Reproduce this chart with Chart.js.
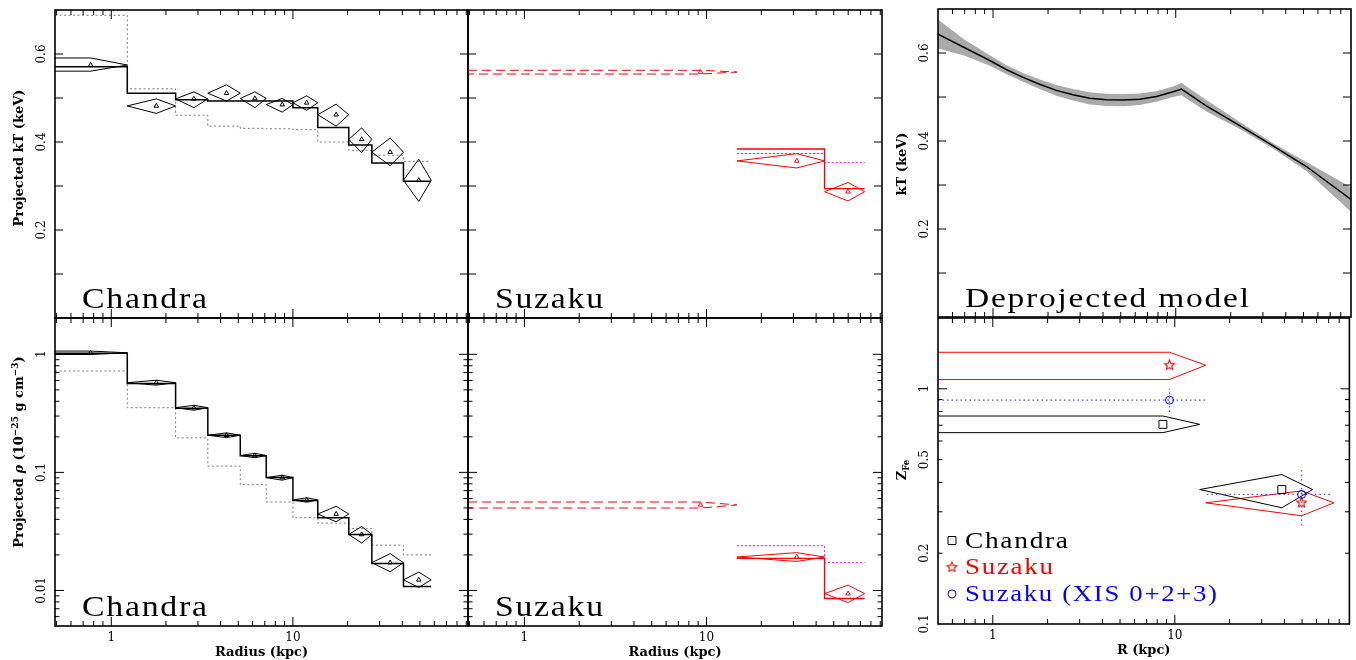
<!DOCTYPE html>
<html>
<head>
<meta charset="utf-8">
<script src="https://cdn.jsdelivr.net/npm/chart.js@4.4.1/dist/chart.umd.min.js"></script>
<style>
  html, body { margin: 0; padding: 0; background: #fff; }
  #wrap { position: relative; width: 1356px; height: 660px; overflow: hidden; }
  #wrap canvas { position: absolute; left: 0; top: 0; }
</style>
</head>
<body>
<div id="wrap">
  <canvas id="ktChandra" width="1356" height="660"></canvas>
  <canvas id="ktSuzaku" width="1356" height="660"></canvas>
  <canvas id="rhoChandra" width="1356" height="660"></canvas>
  <canvas id="rhoSuzaku" width="1356" height="660"></canvas>
  <canvas id="ktModel" width="1356" height="660"></canvas>
  <canvas id="zFe" width="1356" height="660"></canvas>
</div>
<script>
// ---- data (radii in kpc) ----
// Chandra annuli: edges and centres
const chandraEdges  = [0, 1.225, 2.26, 3.40, 5.13, 7.13, 10.0, 13.7, 20.3, 27.2, 40.6, 57.7];
const chandraRadius = [0.77, 1.77, 2.85, 4.31, 6.17, 8.73, 11.9, 17.3, 23.9, 34.3, 49.3];

const chandraKT    = [0.575, 0.482, 0.498, 0.511, 0.499, 0.485, 0.489, 0.462, 0.406, 0.377, 0.313];
const chandraKTHi  = [0.591, 0.498, 0.514, 0.530, 0.514, 0.499, 0.505, 0.486, 0.432, 0.409, 0.361];
const chandraKTLo  = [0.561, 0.465, 0.478, 0.493, 0.478, 0.468, 0.472, 0.436, 0.376, 0.346, 0.265];
const chandraKTFit = [0.571, 0.511, 0.496, 0.493, 0.493, 0.493, 0.478, 0.433, 0.393, 0.352, 0.311];
const chandraKTAlt = [0.688, 0.521, 0.461, 0.436, 0.431, 0.430, 0.428, 0.400, 0.381, 0.370, 0.356];

const chandraRho    = [1.03, 0.575, 0.353, 0.2065, 0.139, 0.0903, 0.0584, 0.0444, 0.0298, 0.0172, 0.0123];
const chandraRhoHi  = [1.065, 0.603, 0.370, 0.216, 0.145, 0.0947, 0.0609, 0.0516, 0.0348, 0.0205, 0.0143];
const chandraRhoLo  = [0.996, 0.548, 0.336, 0.197, 0.133, 0.0859, 0.0559, 0.0382, 0.0252, 0.0144, 0.0106];
const chandraRhoFit = [1.02, 0.567, 0.350, 0.2065, 0.138, 0.0903, 0.0577, 0.0413, 0.0298, 0.0169, 0.0108];
const chandraRhoAlt = [0.722, 0.353, 0.196, 0.113, 0.0787, 0.0561, 0.0413, 0.0372, 0.0335, 0.0242, 0.0200];

// Suzaku annuli (first one is dashed)
const suzakuEdges  = [0, 14.7, 44.5, 73.9];
const suzakuRadius = [9.27, 31.3, 59.9];
const suzakuKT     = [0.559, 0.357, 0.287];
const suzakuKTHi   = [0.563, 0.3735, 0.308];
const suzakuKTLo   = [0.5545, 0.341, 0.266];
const suzakuKTFit  = [null, 0.384, 0.294];
const suzakuKTAlt  = [null, 0.374, 0.353];
const suzakuRho    = [0.053, 0.0192, 0.0094];
const suzakuRhoHi  = [0.0561, 0.0209, 0.0111];
const suzakuRhoLo  = [0.0499, 0.0176, 0.0079];
const suzakuRhoFit = [null, 0.0187, 0.00855];
const suzakuRhoAlt = [null, 0.0239, 0.0172];

// deprojected temperature model and its 1-sigma band
const modelRadius = [0.5, 0.7, 0.96, 1.18, 1.46, 1.80, 2.22, 2.74, 3.38, 4.18, 5.15, 6.35, 7.84, 9.67, 10.75, 14.7, 22.4, 34.1, 51.9, 91];
const modelKT     = [0.643, 0.612, 0.583, 0.5625, 0.5445, 0.529, 0.515, 0.505, 0.497, 0.4935, 0.493, 0.495, 0.501, 0.512, 0.518, 0.480, 0.435, 0.389, 0.342, 0.267];
const modelKTErr  = [0.033, 0.018, 0.012, 0.010, 0.010, 0.011, 0.012, 0.013, 0.014, 0.014, 0.014, 0.013, 0.012, 0.012, 0.014, 0.013, 0.008, 0.006, 0.010, 0.028];

// iron abundance
const zChandraEdges  = [0, 13.7, 57.1];
const zChandraRadius = [8.6, 38.7];
const zChandra       = [0.706, 0.373];
const zChandraHi     = [0.766, 0.432];
const zChandraLo     = [0.651, 0.312];
const zSuzakuEdges   = [0, 14.8, 74.8];
const zSuzakuRadius  = [9.35, 49.7];
const zSuzaku        = [1.26, 0.3275];
const zSuzakuHi      = [1.43, 0.368];
const zSuzakuLo      = [1.095, 0.2885];
const zXisEdges      = [0, 15.0, 73.5];
const zXisRadius     = [9.35, 49.7];
const zXis           = [0.895, 0.3555];
const zXisHi         = [1.0, 0.451];
const zXisLo         = [0.796, 0.262];

// ticks
const radiusMajorTicks = [1, 10];
const radiusMinorTicks = [0.5, 0.6, 0.7, 0.8, 0.9, 2, 3, 4, 5, 6, 7, 8, 9, 20, 30, 40, 50, 60, 70, 80, 90];
const radiusTickLabels = ['1', '10'];
const ktTicks = [0.1, 0.2, 0.3, 0.4, 0.5, 0.6];
const ktTickLabels = ['0.2', '0.4', '0.6'];
const rhoMajorTicks = [0.01, 0.1, 1];
const rhoMinorTicks = [0.006, 0.007, 0.008, 0.009, 0.02, 0.03, 0.04, 0.05, 0.06, 0.07, 0.08, 0.09,
                       0.2, 0.3, 0.4, 0.5, 0.6, 0.7, 0.8, 0.9, 2];
const rhoTickLabels = ['0.01', '0.1', '1'];
const zMajorTicks = [0.1, 1];
const zMinorTicks = [0.2, 0.3, 0.4, 0.5, 0.6, 0.7, 0.8, 0.9, 2];
const zTickLabels = ['0.1', '0.2', '0.5', '1'];

// ---- layout ----
const W = 1356, H = 660;
const LEFT_X = [0.49, 92], RIGHT_X = [0.5, 91];
const SERIF = '"DejaVu Serif"';
const TITLE = 'bold 13px ' + SERIF;
const TICKF = '12px ' + SERIF;
const TAGFONT = '"Liberation Serif", "DejaVu Serif", serif';

function steps(edges, vals, floor) {
  const pts = [];
  vals.forEach((v, i) => {
    if (v == null) return;
    pts.push({ x: Math.max(edges[i], floor), y: v }, { x: edges[i + 1], y: v });
  });
  return pts;
}

// diamond error boxes: horizontal extent = annulus, vertical = error
function diamonds(edges, centres, vals, his, los, floor, idx) {
  const pts = [];
  idx.forEach(i => {
    const c = centres[i], v = vals[i], inner = edges[i], outer = edges[i + 1];
    if (inner <= floor) {
      pts.push({ x: floor, y: his[i] }, { x: c, y: his[i] }, { x: outer, y: v },
               { x: c, y: los[i] }, { x: floor, y: los[i] });
    } else {
      pts.push({ x: inner, y: v }, { x: c, y: his[i] }, { x: outer, y: v },
               { x: c, y: los[i] }, { x: inner, y: v });
    }
    pts.push({ x: c, y: null });
  });
  return pts;
}

function crosses(edges, centres, vals, his, los, floor) {
  const pts = [];
  vals.forEach((v, i) => {
    pts.push({ x: Math.max(edges[i], floor), y: v }, { x: edges[i + 1], y: v }, { x: centres[i], y: null });
    pts.push({ x: centres[i], y: los[i] }, { x: centres[i], y: his[i] }, { x: centres[i], y: null });
  });
  return pts;
}

const range = n => Array.from({ length: n }, (_, i) => i);

const line = (data, color, width, dash) => ({
  data, borderColor: color, borderWidth: width, borderDash: dash || [],
  pointRadius: 0, fill: false, spanGaps: false
});
const marks = (xs, ys, style, color, r) => ({
  data: xs.map((x, i) => ({ x, y: ys[i] })), showLine: false,
  pointStyle: style, pointRadius: r, borderColor: color,
  backgroundColor: 'rgba(0,0,0,0)', borderWidth: 1
});

function makeStar(color, r) {
  const c = document.createElement('canvas');
  const s = Math.ceil(r * 2 + 4);
  c.width = s; c.height = s;
  const g = c.getContext('2d');
  g.strokeStyle = color; g.lineWidth = 1.1;
  g.beginPath();
  for (let i = 0; i < 10; i++) {
    const rr = i % 2 ? r * 0.45 : r;
    const ang = -Math.PI / 2 + i * Math.PI / 5;
    const px = s / 2 + rr * Math.cos(ang), py = s / 2 + rr * Math.sin(ang);
    if (i) g.lineTo(px, py); else g.moveTo(px, py);
  }
  g.closePath(); g.stroke();
  return c;
}
const starRed = makeStar('#ff0000', 5.2);

function drawRich(ctx, parts, cx, cy, rotate) {
  ctx.save();
  ctx.translate(cx, cy);
  if (rotate) ctx.rotate(-Math.PI / 2);
  ctx.textAlign = 'left';
  ctx.textBaseline = 'alphabetic';
  let total = 0;
  parts.forEach(p => { ctx.font = p.font; p.w = ctx.measureText(p.text).width; total += p.w; });
  let x = -total / 2;
  parts.forEach(p => { ctx.font = p.font; ctx.fillText(p.text, x, 4.5 + (p.dy || 0)); x += p.w; });
  ctx.restore();
}

// wide, thin lettering like the plotting package's own font:
// a little letter spacing, then stretched sideways to the wanted width
function spacedText(ctx, text, x, y, size, width) {
  ctx.save();
  ctx.font = size + 'px ' + TAGFONT;
  ctx.textAlign = 'left';
  ctx.textBaseline = 'alphabetic';
  ctx.letterSpacing = '0px';
  const sp = 1.5;
  const w = ctx.measureText(text).width + sp * (text.length - 1);
  ctx.letterSpacing = sp + 'px';
  ctx.translate(x, y);
  ctx.scale(width / w, 1);
  ctx.fillText(text, 0, 0);
  ctx.restore();
}

// box, inward ticks on all sides, labels
function frame(deco) {
  return {
    id: 'frame',
    afterDatasetsDraw(chart) {
      const { ctx, chartArea: a } = chart;
      const xs = chart.scales.x, ys = chart.scales.y;
      ctx.save();
      ctx.strokeStyle = '#000';
      ctx.fillStyle = '#000';
      ctx.lineWidth = 1;
      ctx.beginPath();
      const tx = (v, len) => {
        const p = xs.getPixelForValue(v);
        if (p < a.left + 1 || p > a.right - 1) return;
        ctx.moveTo(p, a.bottom); ctx.lineTo(p, a.bottom - len);
        ctx.moveTo(p, a.top); ctx.lineTo(p, a.top + len);
      };
      const ty = (v, len) => {
        const p = ys.getPixelForValue(v);
        if (p < a.top + 1 || p > a.bottom - 1) return;
        ctx.moveTo(a.left, p); ctx.lineTo(a.left + len, p);
        ctx.moveTo(a.right, p); ctx.lineTo(a.right - len, p);
      };
      radiusMajorTicks.forEach(v => tx(v, 9));
      radiusMinorTicks.forEach(v => tx(v, 5));
      deco.yMajor.forEach(v => ty(v, deco.yMajorLen || 8));
      (deco.yMinor || []).forEach(v => ty(v, 4.5));
      ctx.stroke();
      ctx.lineWidth = 1.6;
      ctx.strokeRect(a.left, a.top, a.right - a.left, a.bottom - a.top);

      ctx.font = TICKF;
      ctx.textAlign = 'center';
      ctx.textBaseline = 'middle';
      if (deco.xLabels) {
        deco.xLabels.forEach(t => ctx.fillText(t, xs.getPixelForValue(parseFloat(t)), a.bottom + 12));
      }
      (deco.yLabels || []).forEach(t => {
        ctx.save();
        ctx.translate(a.left - 13, ys.getPixelForValue(parseFloat(t)));
        ctx.rotate(-Math.PI / 2);
        ctx.fillText(t, 0, 0);
        ctx.restore();
      });
      if (deco.xTitle) {
        ctx.font = TITLE;
        ctx.fillText(deco.xTitle, (a.left + a.right) / 2, a.bottom + 27);
      }
      if (deco.yTitle) drawRich(ctx, deco.yTitle, a.left - 37, deco.yTitleY, true);
      if (deco.tag) spacedText(ctx, deco.tag.text, a.left + 27, a.bottom - 10, deco.tag.size, deco.tag.width);
      if (deco.legend) {
        deco.legend.forEach((e, i) => {
          const base = a.bottom - 76.5 + i * 26.7;
          ctx.strokeStyle = e.color;
          ctx.fillStyle = 'rgba(0,0,0,0)';
          ctx.lineWidth = 1;
          Chart.helpers.drawPoint(ctx, { pointStyle: e.style, radius: e.r, rotation: 0, borderWidth: 1 },
                                  a.left + 14, base - 7);
          ctx.fillStyle = e.color;
          spacedText(ctx, e.text, a.left + 27, base, 24, e.width);
        });
      }
      ctx.restore();
    }
  };
}

function panel(id, area, xr, yType, yr, datasets, deco) {
  // later entries are drawn on top
  datasets.forEach((d, i) => { d.order = datasets.length - i; });
  return new Chart(document.getElementById(id), {
    type: 'line',
    data: { datasets },
    options: {
      responsive: false,
      animation: false,
      events: [],
      layout: { padding: { left: area[0], top: area[1], right: W - area[2], bottom: H - area[3] } },
      scales: {
        x: { type: 'logarithmic', min: xr[0], max: xr[1], display: false },
        y: { type: yType, min: yr[0], max: yr[1], display: false }
      },
      plugins: { legend: { display: false }, tooltip: { enabled: false } },
      elements: { point: { radius: 0 }, line: { tension: 0 } }
    },
    plugins: [frame(deco)]
  });
}

const nC = range(chandraKT.length);
const ktTitle = [{ text: 'Projected kT (keV)', font: TITLE }];
const rhoTitle = [
  { text: 'Projected ', font: TITLE },
  { text: 'ρ', font: 'bold italic 13px ' + SERIF },
  { text: ' (10', font: TITLE },
  { text: '−25', font: 'bold 9px ' + SERIF, dy: -5 },
  { text: ' g cm', font: TITLE },
  { text: '−3', font: 'bold 9px ' + SERIF, dy: -5 },
  { text: ')', font: TITLE }
];

// Chandra kT
panel('ktChandra', [55, 10, 468, 318], LEFT_X, 'linear', [0, 0.7], [
  line(steps(chandraEdges, chandraKTAlt, LEFT_X[0]), '#7a7a7a', 1, [2, 2.5]),
  line(steps(chandraEdges, chandraKTFit, LEFT_X[0]), '#000', 1.5),
  line(diamonds(chandraEdges, chandraRadius, chandraKT, chandraKTHi, chandraKTLo, LEFT_X[0], nC), '#000', 1),
  marks(chandraRadius, chandraKT, 'triangle', '#000', 2.6)
], { yMajor: ktTicks, yLabels: ktTickLabels, yTitle: ktTitle, yTitleY: 158,
     tag: { text: 'Chandra', size: 29, width: 125 } });

// Suzaku kT
panel('ktSuzaku', [468, 10, 882, 318], LEFT_X, 'linear', [0, 0.7], [
  line(steps(suzakuEdges, suzakuKTAlt, LEFT_X[0]), '#ff00ff', 1, [2, 2]),
  line(steps(suzakuEdges, suzakuKTFit, LEFT_X[0]), '#ff0000', 1.4),
  line(diamonds(suzakuEdges, suzakuRadius, suzakuKT, suzakuKTHi, suzakuKTLo, LEFT_X[0], [0]), '#ff0000', 1, [9, 5]),
  line(diamonds(suzakuEdges, suzakuRadius, suzakuKT, suzakuKTHi, suzakuKTLo, LEFT_X[0], [1, 2]), '#ff0000', 1),
  marks(suzakuRadius, suzakuKT, 'triangle', '#ff0000', 2.6)
], { yMajor: ktTicks, tag: { text: 'Suzaku', size: 29, width: 108 } });

// Chandra density
panel('rhoChandra', [55, 318, 468, 626], LEFT_X, 'logarithmic', [0.005, 2.03], [
  line(steps(chandraEdges, chandraRhoAlt, LEFT_X[0]), '#7a7a7a', 1, [2, 2.5]),
  line(steps(chandraEdges, chandraRhoFit, LEFT_X[0]), '#000', 1.5),
  line(diamonds(chandraEdges, chandraRadius, chandraRho, chandraRhoHi, chandraRhoLo, LEFT_X[0], nC), '#000', 1),
  marks(chandraRadius, chandraRho, 'triangle', '#000', 2.6)
], { yMajor: rhoMajorTicks, yMinor: rhoMinorTicks, yMajorLen: 9, yLabels: rhoTickLabels,
     xLabels: radiusTickLabels, xTitle: 'Radius (kpc)', yTitle: rhoTitle, yTitleY: 452,
     tag: { text: 'Chandra', size: 29, width: 125 } });

// Suzaku density
panel('rhoSuzaku', [468, 318, 882, 626], LEFT_X, 'logarithmic', [0.005, 2.03], [
  line(steps(suzakuEdges, suzakuRhoAlt, LEFT_X[0]), '#ff00ff', 1, [2, 2]),
  line(steps(suzakuEdges, suzakuRhoFit, LEFT_X[0]), '#ff0000', 1.4),
  line(diamonds(suzakuEdges, suzakuRadius, suzakuRho, suzakuRhoHi, suzakuRhoLo, LEFT_X[0], [0]), '#ff0000', 1, [9, 5]),
  line(diamonds(suzakuEdges, suzakuRadius, suzakuRho, suzakuRhoHi, suzakuRhoLo, LEFT_X[0], [1, 2]), '#ff0000', 1),
  marks(suzakuRadius, suzakuRho, 'triangle', '#ff0000', 2.6)
], { yMajor: rhoMajorTicks, yMinor: rhoMinorTicks, yMajorLen: 9,
     xLabels: radiusTickLabels, xTitle: 'Radius (kpc)', tag: { text: 'Suzaku', size: 29, width: 108 } });

// deprojected model
panel('ktModel', [938, 9, 1351, 317], RIGHT_X, 'linear', [0, 0.7], [
  { data: modelRadius.map((r, i) => ({ x: r, y: modelKT[i] + modelKTErr[i] })), borderWidth: 0,
    borderColor: 'rgba(0,0,0,0)', backgroundColor: '#aaaaaa', fill: '+1', pointRadius: 0 },
  { data: modelRadius.map((r, i) => ({ x: r, y: modelKT[i] - modelKTErr[i] })), borderWidth: 0,
    borderColor: 'rgba(0,0,0,0)', fill: false, pointRadius: 0 },
  line(modelRadius.map((r, i) => ({ x: r, y: modelKT[i] })), '#000', 1.5)
], { yMajor: ktTicks, yLabels: ktTickLabels, yTitle: [{ text: 'kT (keV)', font: TITLE }], yTitleY: 164,
     tag: { text: 'Deprojected model', size: 28, width: 284 } });

// iron abundance
panel('zFe', [938, 318, 1351, 624], RIGHT_X, 'logarithmic', [0.1, 2], [
  line(diamonds(zSuzakuEdges, zSuzakuRadius, zSuzaku, zSuzakuHi, zSuzakuLo, RIGHT_X[0], [0, 1]), '#ff0000', 1),
  line(diamonds(zChandraEdges, zChandraRadius, zChandra, zChandraHi, zChandraLo, RIGHT_X[0], [0, 1]), '#000', 1),
  line(crosses(zXisEdges, zXisRadius, zXis, zXisHi, zXisLo, RIGHT_X[0]), '#4b4bff', 1.3, [1.5, 3]),
  marks(zChandraRadius, zChandra, 'rect', '#000', 5.6),
  marks(zSuzakuRadius, zSuzaku, starRed, '#ff0000', 5),
  marks(zXisRadius, zXis, 'circle', '#0000ff', 4)
], { yMajor: zMajorTicks, yMinor: zMinorTicks, yMajorLen: 9, yLabels: zTickLabels,
     xLabels: radiusTickLabels, xTitle: 'R (kpc)', yTitleY: 470,
     yTitle: [{ text: 'Z', font: TITLE }, { text: 'Fe', font: 'bold 8.5px ' + SERIF, dy: 3 }],
     legend: [
       { text: 'Chandra', color: '#000', style: 'rect', r: 5.6, width: 103 },
       { text: 'Suzaku', color: '#ff0000', style: starRed, r: 5, width: 88 },
       { text: 'Suzaku (XIS 0+2+3)', color: '#0000ff', style: 'circle', r: 4, width: 252 }
     ] });
</script>
</body>
</html>
